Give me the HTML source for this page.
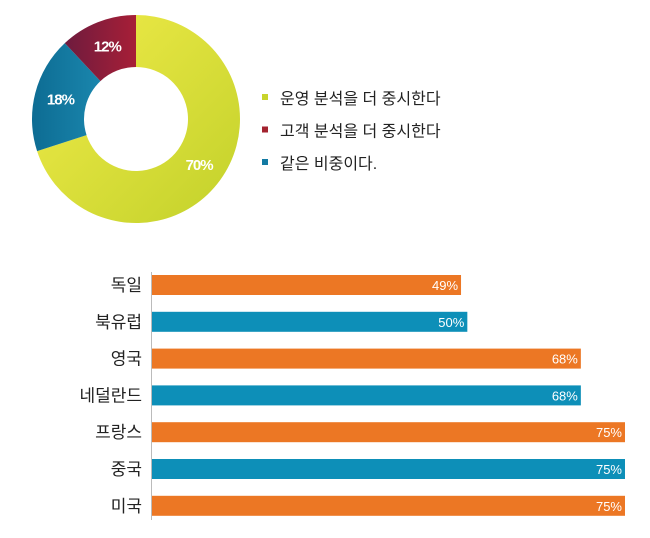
<!DOCTYPE html>
<html><head><meta charset="utf-8"><style>
body{margin:0;background:#fff;width:650px;height:533px;overflow:hidden;font-family:"Liberation Sans","Noto Sans CJK KR",sans-serif}
</style></head><body>
<svg id="c" width="650" height="533" xmlns="http://www.w3.org/2000/svg">
<defs>
<linearGradient id="yg" x1="0" y1="0" x2="1" y2="1"><stop offset="0" stop-color="#f2ec4a"/><stop offset="1" stop-color="#c2d12a"/></linearGradient>
<linearGradient id="rg" x1="0" y1="0" x2="1" y2="0"><stop offset="0" stop-color="#6e1b3e"/><stop offset="1" stop-color="#a71f37"/></linearGradient>
<linearGradient id="bg" x1="0" y1="0" x2="1" y2="0"><stop offset="0" stop-color="#0d6c93"/><stop offset="1" stop-color="#1a86ad"/></linearGradient>
</defs>
<g id="donut"></g><g id="legend"></g><g id="bars"></g>
</svg>
<script>
const pieLabels=["운영 분석을 더 중시한다","고객 분석을 더 중시한다","같은 비중이다."];
const pieValues=[70,12,18];
const pieOrder=[0,2,1];
const pieFills=["url(#yg)","url(#rg)","url(#bg)"];
const legendColors=["#c8d42c","#a3232f","#137aa3"];
const countries=["독일","북유럽","영국","네덜란드","프랑스","중국","미국"];
const barValues=[49,50,68,68,75,75,75];
const barColors=["#ec7724","#0d8fb8","#ec7724","#0d8fb8","#ec7724","#0d8fb8","#ec7724"];
const NS="http://www.w3.org/2000/svg";
function mk(t,a,p){const e=document.createElementNS(NS,t);for(const k in a)e.setAttribute(k,a[k]);p.appendChild(e);return e;}
// donut
const cx=136,cy=119,R=104,r=52;
const tot=pieValues.reduce((a,b)=>a+b,0);
let ang=0;const dg=document.getElementById('donut');
function pt(a,rad){return [cx+rad*Math.sin(a),cy-rad*Math.cos(a)];}
pieOrder.forEach(i=>{
 const a0=ang,a1=ang+pieValues[i]/tot*2*Math.PI;ang=a1;
 const lg=(a1-a0)>Math.PI?1:0;
 const p0=pt(a0,R),p1=pt(a1,R),q1=pt(a1,r),q0=pt(a0,r);
 const s=mk('path',{d:`M${p0}A${R},${R} 0 ${lg} 1 ${p1}L${q1}A${r},${r} 0 ${lg} 0 ${q0}Z`,fill:pieFills[i]},dg);
 
 
 const m=(a0+a1)/2,lp=pt(m,(R+r)/2);
 const t=mk('text',{x:lp[0],y:lp[1]+5,'text-anchor':'middle','font-size':15,'font-weight':'bold',fill:'#fff','letter-spacing':'-1'},dg);
 t.textContent=pieValues[i]+'%';
 
 
});
// legend
const lgG=document.getElementById('legend');
pieLabels.forEach((l,i)=>{
 const y=98+i*32.5;
 const sq=mk('rect',{x:262,y:y-4,width:6,height:6,fill:legendColors[i]},lgG);
 
 
 const t=mk('text',{x:280,y:y+6,'font-size':16,fill:'#222'},lgG);
 t.textContent=l;
 
 
});
// bars
const x0=152,x1=625,vmax=75;
const xs=v=>x0+(x1-x0)*v/vmax;
const bg=document.getElementById('bars');
const ax=mk('line',{x1:x0-0.5,y1:272,x2:x0-0.5,y2:520,stroke:'#bbb','stroke-width':1},bg);


countries.forEach((c,i)=>{
 const yc=285+i*36.8;
 const b=mk('rect',{x:x0,y:yc-10,width:xs(barValues[i])-x0,height:20,fill:barColors[i]},bg);
 
 
 const t=mk('text',{x:142,y:yc+6,'text-anchor':'end','font-size':17,fill:'#222'},bg);
 t.textContent=c;
 
 
 const v=mk('text',{x:xs(barValues[i])-3,y:yc+5,'text-anchor':'end','font-size':13,fill:'#fff'},bg);
 v.textContent=barValues[i]+'%';
 
 
});
</script>
</body></html>
